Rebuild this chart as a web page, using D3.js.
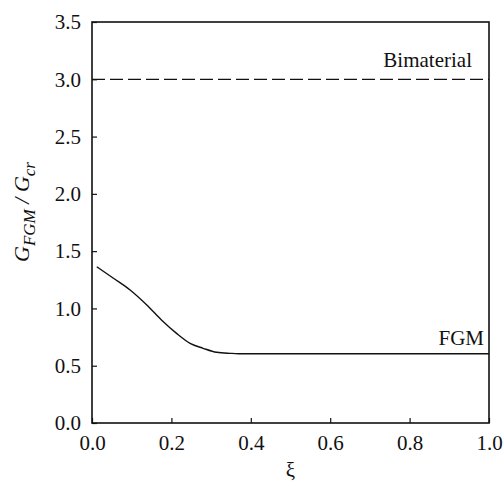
<!DOCTYPE html>
<html>
<head>
<meta charset="utf-8">
<script src="https://cdn.jsdelivr.net/npm/d3@7"></script>
<style>
  body { margin: 0; background: #fff; }
  svg text { font-family: "Liberation Serif", "Times New Roman", Times, "DejaVu Serif"; fill: #111; }
</style>
</head>
<body>
<svg id="chart"></svg>
<script>
// data
const xiValues  = [0.012, 0.054, 0.096, 0.138, 0.175, 0.213, 0.247, 0.280, 0.314, 0.348, 0.369, 0.5, 0.7, 1.0];
const fgmValues = [1.364, 1.263, 1.161, 1.030, 0.899, 0.782, 0.695, 0.652, 0.617, 0.608, 0.605, 0.605, 0.605, 0.605];
const bimatXi     = [0, 1];
const bimatValues = [3.0, 3.0];
const xTicks = [0, 0.2, 0.4, 0.6, 0.8, 1.0];
const yTicks = [0, 0.5, 1.0, 1.5, 2.0, 2.5, 3.0, 3.5];

const serif = '"Liberation Serif", "Times New Roman", Times, "DejaVu Serif"';

const width = 504, height = 488;
const margin = { top: 22, right: 15, bottom: 65, left: 92 };
const innerW = width - margin.left - margin.right;
const innerH = height - margin.top - margin.bottom;

const svg = d3.select('#chart')
  .attr('width', width)
  .attr('height', height)
  .attr('font-family', serif);

const chart = svg.append('g')
  .attr('transform', `translate(${margin.left},${margin.top})`);

const xScale = d3.scaleLinear().domain([0, 1]).range([0, innerW]);
const yScale = d3.scaleLinear().domain([0, 3.5]).range([innerH, 0]);

// axes with inward ticks
const xAxis = d3.axisBottom(xScale)
  .tickValues(xTicks)
  .tickSize(-5)
  .tickSizeOuter(0)
  .tickPadding(12)
  .tickFormat(d3.format('.1f'));

const yAxis = d3.axisLeft(yScale)
  .tickValues(yTicks)
  .tickSize(-5)
  .tickSizeOuter(0)
  .tickPadding(11)
  .tickFormat(d3.format('.1f'));

const xAxisG = chart.append('g')
  .attr('transform', `translate(0,${innerH})`)
  .call(xAxis);

const yAxisG = chart.append('g').call(yAxis);

[xAxisG, yAxisG].forEach(g => {
  g.attr('font-family', serif).attr('font-size', 21);
  g.select('.domain').remove();
  g.selectAll('line').attr('stroke', '#111').attr('stroke-width', 1.2);
  g.selectAll('text').attr('fill', '#111');
});
xAxisG.selectAll('text').attr('dy', '0.71em');

// frame
chart.append('rect')
  .attr('x', 0).attr('y', 0)
  .attr('width', innerW).attr('height', innerH)
  .attr('fill', 'none')
  .attr('stroke', '#111')
  .attr('stroke-width', 1.6);

const line = d3.line()
  .x(d => xScale(d[0]))
  .y(d => yScale(d[1]));

// bimaterial dashed line
chart.append('path')
  .datum(d3.zip(bimatXi, bimatValues))
  .attr('d', line)
  .attr('fill', 'none')
  .attr('stroke', '#111')
  .attr('stroke-width', 1.3)
  .attr('stroke-dasharray', '13,5');

// FGM curve
chart.append('path')
  .datum(d3.zip(xiValues, fgmValues))
  .attr('d', line.curve(d3.curveMonotoneX))
  .attr('fill', 'none')
  .attr('stroke', '#111')
  .attr('stroke-width', 1.4);

// series labels
chart.append('text')
  .attr('x', innerW - 17)
  .attr('y', yScale(3.0) - 12)
  .attr('text-anchor', 'end')
  .attr('font-size', '21px')
  .text('Bimaterial');

chart.append('text')
  .attr('x', innerW - 5)
  .attr('y', yScale(0.605) - 9)
  .attr('text-anchor', 'end')
  .attr('font-size', '21px')
  .text('FGM');

// axis titles
svg.append('text')
  .attr('x', margin.left + innerW / 2)
  .attr('y', 477)
  .attr('text-anchor', 'middle')
  .attr('font-size', '21px')
  .text('ξ');

const yTitle = svg.append('text')
  .attr('transform', 'translate(29,212) rotate(-90)')
  .attr('text-anchor', 'middle')
  .attr('font-size', '22px')
  .attr('font-style', 'italic');
yTitle.append('tspan').text('G');
yTitle.append('tspan').attr('dy', 6).attr('font-size', '17px').text('FGM');
yTitle.append('tspan').attr('dy', -6).text(' / G');
yTitle.append('tspan').attr('dy', 6).attr('font-size', '17px').text('cr');
</script>
</body>
</html>
